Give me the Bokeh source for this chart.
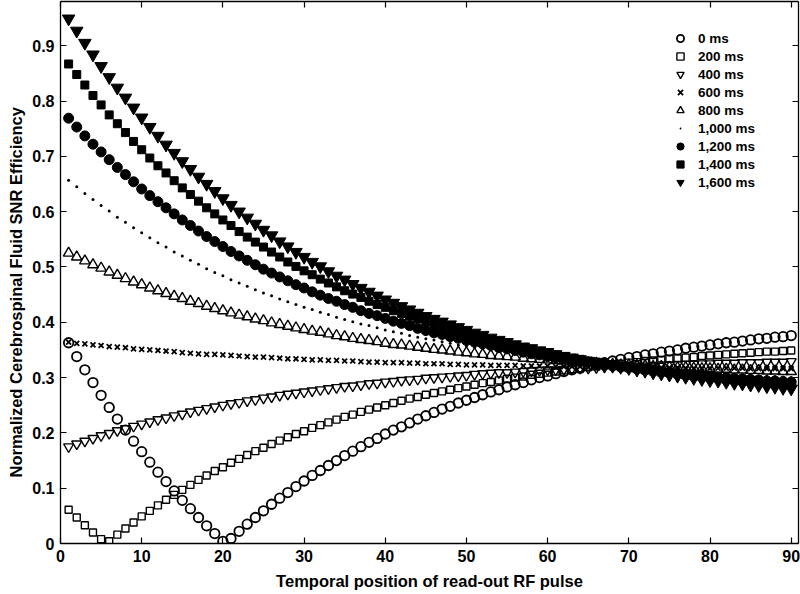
from bokeh.plotting import figure
from bokeh.models import Range1d, LinearAxis, FixedTicker, Title
from bokeh.embed import file_html
from bokeh.resources import INLINE

# ---------------- data ----------------
pulse = list(range(1, 91))

series_labels = ["0 ms", "200 ms", "400 ms", "600 ms", "800 ms",
                 "1,000 ms", "1,200 ms", "1,400 ms", "1,600 ms"]

snr_0ms = [0.363, 0.338, 0.314, 0.291, 0.268, 0.246, 0.225, 0.205, 0.185, 0.166,
           0.147, 0.129, 0.112, 0.095, 0.078, 0.063, 0.047, 0.032, 0.018, 0.004,
           0.009, 0.022, 0.035, 0.047, 0.059, 0.071, 0.082, 0.092, 0.103, 0.113,
           0.123, 0.132, 0.141, 0.150, 0.159, 0.167, 0.175, 0.183, 0.190, 0.198,
           0.205, 0.211, 0.218, 0.225, 0.231, 0.237, 0.243, 0.248, 0.254, 0.259,
           0.264, 0.269, 0.274, 0.278, 0.283, 0.287, 0.291, 0.296, 0.300, 0.303,
           0.307, 0.311, 0.314, 0.317, 0.321, 0.324, 0.327, 0.330, 0.333, 0.336,
           0.338, 0.341, 0.343, 0.346, 0.348, 0.350, 0.353, 0.355, 0.357, 0.359,
           0.361, 0.363, 0.364, 0.366, 0.368, 0.370, 0.371, 0.373, 0.374, 0.376]

snr_200ms = [0.061, 0.047, 0.033, 0.020, 0.008, 0.004, 0.016, 0.027, 0.038, 0.049,
             0.059, 0.069, 0.079, 0.088, 0.097, 0.106, 0.115, 0.123, 0.131, 0.138,
             0.146, 0.153, 0.160, 0.167, 0.173, 0.180, 0.186, 0.192, 0.198, 0.203,
             0.209, 0.214, 0.219, 0.224, 0.229, 0.233, 0.238, 0.242, 0.246, 0.250,
             0.254, 0.258, 0.262, 0.265, 0.269, 0.272, 0.275, 0.278, 0.281, 0.284,
             0.287, 0.290, 0.292, 0.295, 0.298, 0.300, 0.302, 0.305, 0.307, 0.309,
             0.311, 0.313, 0.315, 0.317, 0.319, 0.320, 0.322, 0.324, 0.325, 0.327,
             0.328, 0.330, 0.331, 0.332, 0.334, 0.335, 0.336, 0.337, 0.339, 0.340,
             0.341, 0.342, 0.343, 0.344, 0.345, 0.346, 0.347, 0.347, 0.348, 0.349]

snr_400ms = [0.175, 0.180, 0.185, 0.190, 0.195, 0.199, 0.204, 0.208, 0.212, 0.216,
             0.220, 0.224, 0.227, 0.231, 0.234, 0.238, 0.241, 0.244, 0.247, 0.250,
             0.253, 0.255, 0.258, 0.260, 0.263, 0.265, 0.268, 0.270, 0.272, 0.274,
             0.276, 0.278, 0.280, 0.282, 0.284, 0.285, 0.287, 0.289, 0.290, 0.292,
             0.293, 0.295, 0.296, 0.297, 0.299, 0.300, 0.301, 0.302, 0.303, 0.304,
             0.306, 0.307, 0.308, 0.309, 0.309, 0.310, 0.311, 0.312, 0.313, 0.314,
             0.314, 0.315, 0.316, 0.317, 0.317, 0.318, 0.319, 0.319, 0.320, 0.320,
             0.321, 0.321, 0.322, 0.323, 0.323, 0.324, 0.324, 0.324, 0.325, 0.325,
             0.326, 0.326, 0.326, 0.327, 0.327, 0.327, 0.328, 0.328, 0.328, 0.329]

snr_600ms = [0.364, 0.362, 0.361, 0.359, 0.358, 0.356, 0.355, 0.354, 0.352, 0.351,
             0.350, 0.349, 0.348, 0.347, 0.345, 0.344, 0.343, 0.342, 0.342, 0.341,
             0.340, 0.339, 0.338, 0.337, 0.337, 0.336, 0.335, 0.334, 0.334, 0.333,
             0.332, 0.332, 0.331, 0.331, 0.330, 0.330, 0.329, 0.328, 0.328, 0.327,
             0.327, 0.327, 0.326, 0.326, 0.325, 0.325, 0.325, 0.324, 0.324, 0.323,
             0.323, 0.323, 0.322, 0.322, 0.322, 0.322, 0.321, 0.321, 0.321, 0.321,
             0.320, 0.320, 0.320, 0.320, 0.319, 0.319, 0.319, 0.319, 0.319, 0.319,
             0.318, 0.318, 0.318, 0.318, 0.318, 0.318, 0.317, 0.317, 0.317, 0.317,
             0.317, 0.317, 0.317, 0.317, 0.316, 0.316, 0.316, 0.316, 0.316, 0.316]

snr_800ms = [0.525, 0.518, 0.511, 0.504, 0.498, 0.491, 0.485, 0.479, 0.473, 0.468,
             0.462, 0.457, 0.452, 0.447, 0.443, 0.438, 0.434, 0.429, 0.425, 0.421,
             0.417, 0.413, 0.410, 0.406, 0.403, 0.399, 0.396, 0.393, 0.390, 0.387,
             0.384, 0.382, 0.379, 0.376, 0.374, 0.371, 0.369, 0.367, 0.365, 0.362,
             0.360, 0.359, 0.357, 0.355, 0.353, 0.351, 0.350, 0.348, 0.346, 0.345,
             0.343, 0.342, 0.340, 0.339, 0.338, 0.337, 0.335, 0.334, 0.333, 0.332,
             0.331, 0.330, 0.329, 0.328, 0.327, 0.326, 0.325, 0.324, 0.323, 0.323,
             0.322, 0.321, 0.320, 0.320, 0.319, 0.318, 0.318, 0.317, 0.316, 0.316,
             0.315, 0.315, 0.314, 0.314, 0.313, 0.313, 0.312, 0.312, 0.311, 0.311]

snr_1000ms = [0.657, 0.645, 0.633, 0.622, 0.611, 0.601, 0.590, 0.581, 0.571, 0.562,
              0.553, 0.544, 0.536, 0.527, 0.520, 0.512, 0.505, 0.497, 0.490, 0.484,
              0.477, 0.471, 0.465, 0.459, 0.453, 0.448, 0.442, 0.437, 0.432, 0.427,
              0.423, 0.418, 0.414, 0.409, 0.405, 0.401, 0.397, 0.394, 0.390, 0.386,
              0.383, 0.380, 0.376, 0.373, 0.370, 0.368, 0.365, 0.362, 0.359, 0.357,
              0.354, 0.352, 0.350, 0.347, 0.345, 0.343, 0.341, 0.339, 0.337, 0.335,
              0.334, 0.332, 0.330, 0.329, 0.327, 0.325, 0.324, 0.323, 0.321, 0.320,
              0.319, 0.317, 0.316, 0.315, 0.314, 0.313, 0.312, 0.311, 0.310, 0.309,
              0.308, 0.307, 0.306, 0.305, 0.304, 0.303, 0.303, 0.302, 0.301, 0.300]

snr_1200ms = [0.769, 0.753, 0.737, 0.722, 0.708, 0.694, 0.680, 0.667, 0.654, 0.641,
              0.629, 0.618, 0.607, 0.596, 0.585, 0.575, 0.565, 0.555, 0.546, 0.537,
              0.528, 0.520, 0.512, 0.504, 0.496, 0.489, 0.482, 0.475, 0.468, 0.462,
              0.455, 0.449, 0.443, 0.438, 0.432, 0.427, 0.421, 0.416, 0.412, 0.407,
              0.402, 0.398, 0.394, 0.389, 0.385, 0.381, 0.378, 0.374, 0.371, 0.367,
              0.364, 0.361, 0.358, 0.354, 0.352, 0.349, 0.346, 0.343, 0.341, 0.338,
              0.336, 0.334, 0.331, 0.329, 0.327, 0.325, 0.323, 0.321, 0.319, 0.318,
              0.316, 0.314, 0.313, 0.311, 0.309, 0.308, 0.307, 0.305, 0.304, 0.303,
              0.301, 0.300, 0.299, 0.298, 0.297, 0.296, 0.294, 0.294, 0.293, 0.292]

snr_1400ms = [0.867, 0.848, 0.829, 0.810, 0.793, 0.775, 0.759, 0.743, 0.727, 0.712,
              0.697, 0.683, 0.670, 0.656, 0.643, 0.631, 0.619, 0.607, 0.596, 0.585,
              0.575, 0.564, 0.554, 0.545, 0.536, 0.527, 0.518, 0.509, 0.501, 0.493,
              0.486, 0.478, 0.471, 0.464, 0.457, 0.451, 0.445, 0.438, 0.432, 0.427,
              0.421, 0.416, 0.411, 0.406, 0.401, 0.396, 0.391, 0.387, 0.383, 0.379,
              0.375, 0.371, 0.367, 0.363, 0.360, 0.356, 0.353, 0.350, 0.347, 0.344,
              0.341, 0.338, 0.335, 0.333, 0.330, 0.328, 0.325, 0.323, 0.321, 0.318,
              0.316, 0.314, 0.312, 0.310, 0.309, 0.307, 0.305, 0.303, 0.302, 0.300,
              0.299, 0.297, 0.296, 0.294, 0.293, 0.292, 0.290, 0.289, 0.288, 0.287]

snr_1600ms = [0.949, 0.927, 0.905, 0.884, 0.863, 0.843, 0.824, 0.806, 0.788, 0.770,
              0.753, 0.737, 0.721, 0.706, 0.691, 0.677, 0.663, 0.650, 0.637, 0.624,
              0.612, 0.600, 0.589, 0.578, 0.567, 0.557, 0.546, 0.537, 0.527, 0.518,
              0.509, 0.501, 0.492, 0.484, 0.477, 0.469, 0.462, 0.455, 0.448, 0.441,
              0.435, 0.429, 0.423, 0.417, 0.411, 0.406, 0.401, 0.396, 0.391, 0.386,
              0.381, 0.377, 0.372, 0.368, 0.364, 0.360, 0.356, 0.353, 0.349, 0.346,
              0.342, 0.339, 0.336, 0.333, 0.330, 0.327, 0.324, 0.322, 0.319, 0.317,
              0.314, 0.312, 0.309, 0.307, 0.305, 0.303, 0.301, 0.299, 0.297, 0.295,
              0.294, 0.292, 0.290, 0.289, 0.287, 0.286, 0.284, 0.283, 0.281, 0.280]

x_ticks = [0, 10, 20, 30, 40, 50, 60, 70, 80, 90]
y_ticks = [0, 0.1, 0.2, 0.3, 0.4, 0.5, 0.6, 0.7, 0.8, 0.9]
y_tick_labels = ["0", "0.1", "0.2", "0.3", "0.4", "0.5", "0.6", "0.7", "0.8", "0.9"]

all_series = [snr_0ms, snr_200ms, snr_400ms, snr_600ms, snr_800ms,
              snr_1000ms, snr_1200ms, snr_1400ms, snr_1600ms]

# ---------------- styles ----------------
marker_styles = [
    dict(marker="circle", size=9.5, fill_color=None, line_width=1.8),
    dict(marker="square", size=7, fill_color=None, line_width=1.4),
    dict(marker="inverted_triangle", size=10, fill_color=None, line_width=1.4),
    dict(marker="x", size=7, fill_color=None, line_width=1.8),
    dict(marker="triangle", size=10.5, fill_color=None, line_width=1.4),
    dict(marker="dot", size=12, fill_color="black", line_width=1),
    dict(marker="circle", size=10, fill_color="black", line_width=1),
    dict(marker="square", size=8, fill_color="black", line_width=1),
    dict(marker="inverted_triangle", size=12.5, fill_color="black", line_width=1),
]

FONT = "Liberation Sans"

p = figure(width=800, height=594, output_backend="svg", toolbar_location=None, tools="",
           x_range=Range1d(0, 90.9), y_range=Range1d(0, 0.980),
           min_border_left=59, min_border_right=2, min_border_top=1, min_border_bottom=51,
           background_fill_color="white", border_fill_color="white")
p.outline_line_color = None
p.grid.visible = False

for vals, lab, st in zip(all_series, series_labels, marker_styles):
    p.scatter(pulse, vals, line_color="black", legend_label=lab, **st)

def style_axis(ax):
    ax.axis_line_color = "black"
    ax.axis_line_width = 1.3
    ax.major_tick_line_color = "black"
    ax.major_tick_line_width = 1.2
    ax.major_tick_in = 6
    ax.major_tick_out = 0
    ax.minor_tick_in = 0
    ax.minor_tick_out = 0
    ax.major_label_text_font = FONT
    ax.major_label_text_font_style = "bold"
    ax.major_label_text_font_size = "16px"
    ax.major_label_text_color = "black"
    ax.axis_label_text_font = FONT
    ax.axis_label_text_font_style = "bold"
    ax.axis_label_text_font_size = "16.5px"
    ax.axis_label_text_color = "black"

xa = p.xaxis[0]
xa.ticker = FixedTicker(ticks=x_ticks)
style_axis(xa)
xa.major_label_standoff = 6
xa.axis_label = "Temporal position of read-out RF pulse"
xa.axis_label_standoff = 7

ya = p.yaxis[0]
ya.ticker = FixedTicker(ticks=y_ticks)
style_axis(ya)
ya.major_label_overrides = {t: s for t, s in zip(y_ticks, y_tick_labels)}
ya.major_label_standoff = 6

# y-axis title, placed lower than the frame centre as in the reference
ytitle = Title(text="Normalized Cerebrospinal Fluid SNR Efficiency", align="left", offset=66,
               text_font=FONT, text_font_style="bold", text_font_size="16.5px",
               text_color="black", standoff=9)
p.add_layout(ytitle, "left")

top_axis = LinearAxis(ticker=FixedTicker(ticks=x_ticks))
style_axis(top_axis)
top_axis.major_label_text_font_size = "1px"
top_axis.major_label_text_color = None
top_axis.major_label_standoff = 0
p.add_layout(top_axis, "above")

right_axis = LinearAxis(ticker=FixedTicker(ticks=y_ticks))
style_axis(right_axis)
right_axis.major_label_text_font_size = "1px"
right_axis.major_label_text_color = None
right_axis.major_label_standoff = 0
p.add_layout(right_axis, "right")

lg = p.legend[0]
lg.location = (610, 352)
lg.padding = 0
lg.margin = 0
lg.spacing = 0
lg.glyph_width = 20
lg.glyph_height = 18
lg.label_height = 18
lg.label_standoff = 8
lg.border_line_color = None
lg.background_fill_alpha = 0
lg.label_text_font = FONT
lg.label_text_font_style = "bold"
lg.label_text_font_size = "13.5px"
lg.label_text_color = "black"

open("out.html", "w").write(file_html(p, INLINE))
